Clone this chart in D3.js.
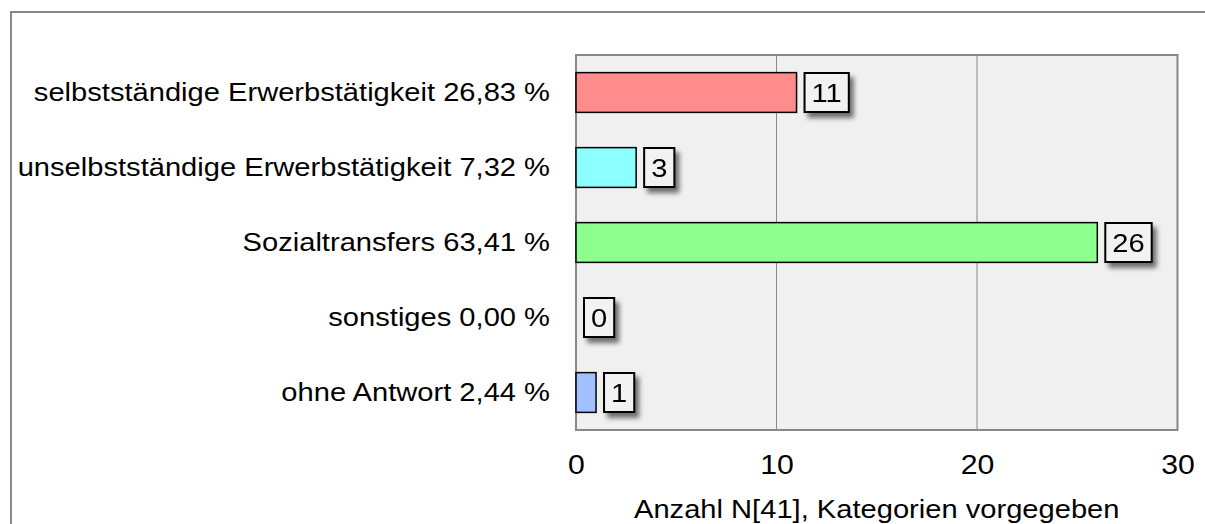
<!DOCTYPE html>
<html>
<head>
<meta charset="utf-8">
<script src="https://cdn.jsdelivr.net/npm/d3@7"></script>
<style>
  body { margin: 0; background: #fff; }
  text { font-family: "Liberation Sans", Arial, sans-serif; fill: #000; }
</style>
</head>
<body>
<div class="grafico"></div>
<script>
// Kategorien, Werte und Farben
var kategorien = [
  "selbstständige Erwerbstätigkeit 26,83 %",
  "unselbstständige Erwerbstätigkeit 7,32 %",
  "Sozialtransfers 63,41 %",
  "sonstiges 0,00 %",
  "ohne Antwort 2,44 %"
];
var anzahl = [11, 3, 26, 0, 1];
var farben = ["#ff8c8c", "#8cffff", "#8cff8c", "#c0c0c0", "#a0c0ff"];
var ticks = [0, 10, 20, 30];
var achsenTitel = "Anzahl N[41], Kategorien vorgegeben";

var width = 1205;
var height = 524;
// Schrift im Original ist etwas breiter
var streck = 1.12;

var daten = kategorien.map(function(k, i){
  return { name: k, wert: anzahl[i], farbe: farben[i] };
});

var svg = d3.select(".grafico")
  .append("svg")
  .attr("width", width)
  .attr("height", height);

// Schatten fuer die Wertelabels
var defs = svg.append("defs");
var filter = defs.append("filter")
  .attr("id", "schatten")
  .attr("x", "-30%").attr("y", "-30%")
  .attr("width", "170%").attr("height", "170%");
filter.append("feGaussianBlur").attr("in", "SourceAlpha").attr("stdDeviation", 2.5);
filter.append("feOffset").attr("dx", 4).attr("dy", 5).attr("result", "off");
filter.append("feComponentTransfer").append("feFuncA").attr("type", "linear").attr("slope", 0.55);
var merge = filter.append("feMerge");
merge.append("feMergeNode");
merge.append("feMergeNode").attr("in", "SourceGraphic");

// Rahmen um das ganze Diagramm
svg.append("path")
  .attr("d", "M11,524 V12 H1205")
  .attr("fill", "none")
  .attr("stroke", "#888")
  .attr("stroke-width", 2);

var plot = { left: 576, right: 1177.5, top: 55, bottom: 430 };

var x = d3.scaleLinear()
  .domain([0, 30])
  .range([plot.left, plot.right]);

var y = d3.scaleBand()
  .domain(kategorien)
  .range([plot.top, plot.bottom])
  .paddingInner(0.47)
  .paddingOuter(0.235);

// Hintergrund der Zeichenflaeche
svg.append("rect")
  .attr("x", plot.left)
  .attr("y", plot.top)
  .attr("width", plot.right - plot.left)
  .attr("height", plot.bottom - plot.top)
  .attr("fill", "#f0f0f0");

// Gitterlinien
svg.selectAll(".grid")
  .data(ticks.slice(1, -1))
  .enter()
  .append("line")
  .attr("x1", function(d){ return x(d); })
  .attr("x2", function(d){ return x(d); })
  .attr("y1", plot.top)
  .attr("y2", plot.bottom)
  .attr("stroke", "#888")
  .attr("stroke-width", 1);

// Rahmen der Zeichenflaeche
svg.append("rect")
  .attr("x", plot.left)
  .attr("y", plot.top)
  .attr("width", plot.right - plot.left)
  .attr("height", plot.bottom - plot.top)
  .attr("fill", "none")
  .attr("stroke", "#888")
  .attr("stroke-width", 2);

// X-Achse
var xAxis = d3.axisBottom(x)
  .tickValues(ticks)
  .tickSize(0)
  .tickPadding(25);
var gx = svg.append("g")
  .attr("transform", "translate(0," + plot.bottom + ")")
  .call(xAxis);
gx.select(".domain").remove();
gx.selectAll("text")
  .attr("font-family", "Liberation Sans, Arial, sans-serif")
  .attr("font-size", 27)
  .attr("fill", "#000")
  .attr("transform", "scale(" + streck + ",1)");

// Y-Achse (Kategorien)
var yAxis = d3.axisLeft(y)
  .tickSize(0)
  .tickPadding(26);
var gy = svg.append("g")
  .attr("transform", "translate(" + plot.left + ",0)")
  .call(yAxis);
gy.select(".domain").remove();
gy.selectAll("text")
  .attr("font-family", "Liberation Sans, Arial, sans-serif")
  .attr("font-size", 26)
  .attr("fill", "#000")
  .attr("x", -26 / streck)
  .attr("transform", "scale(" + streck + ",1)");

// Balken
svg.selectAll(".balken")
  .data(daten.filter(function(d){ return d.wert > 0; }))
  .enter()
  .append("rect")
  .attr("class", "balken")
  .attr("x", x(0))
  .attr("y", function(d){ return y(d.name); })
  .attr("width", function(d){ return x(d.wert) - x(0); })
  .attr("height", y.bandwidth())
  .attr("fill", function(d){ return d.farbe; })
  .attr("stroke", "#000")
  .attr("stroke-width", 1.5);

// Wertelabels mit Kasten
var labels = svg.selectAll(".label")
  .data(daten)
  .enter()
  .append("g")
  .attr("class", "label")
  .attr("filter", "url(#schatten)");

labels.each(function(d){
  var g = d3.select(this);
  var bx = x(d.wert) + 8;
  var cy = y(d.name) + y.bandwidth() / 2;
  var tg = g.append("g");
  var t = tg.append("text")
    .attr("font-size", 26)
    .attr("dominant-baseline", "central")
    .text(d.wert);
  var w = t.node().getComputedTextLength() * streck;
  g.insert("rect", "g")
    .attr("x", bx)
    .attr("y", cy - 19.5)
    .attr("width", w + 14)
    .attr("height", 39)
    .attr("fill", "#f2f2f2")
    .attr("stroke", "#000")
    .attr("stroke-width", 2);
  tg.attr("transform", "translate(" + (bx + 7) + "," + (cy + 1) + ") scale(" + streck + ",1)");
});

// Achsentitel
svg.append("g")
  .attr("transform", "translate(" + ((plot.left + plot.right) / 2) + ",518) scale(" + streck + ",1)")
  .append("text")
  .attr("text-anchor", "middle")
  .attr("font-size", 26)
  .text(achsenTitel);
</script>
</body>
</html>
